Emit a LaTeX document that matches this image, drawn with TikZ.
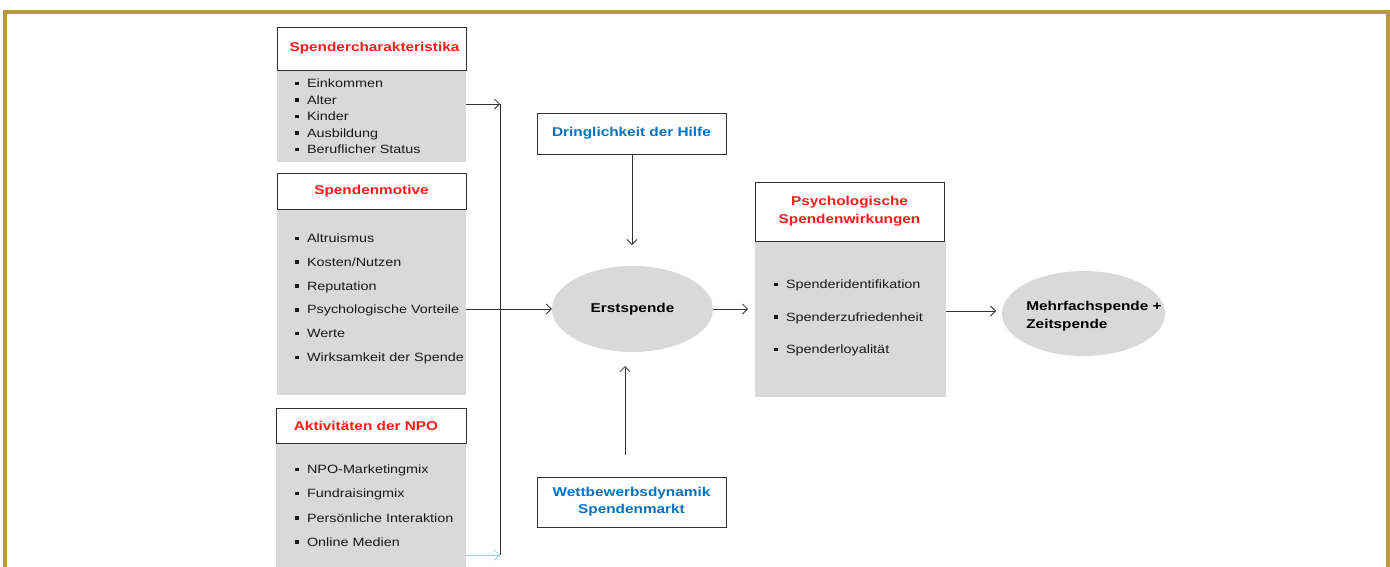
\documentclass[tikz,border=0pt]{standalone}
\usepackage{fontspec}
\setmainfont{Liberation Sans}[FakeStretch=1.2]
\usetikzlibrary{arrows.meta,shapes.geometric}
\definecolor{gold}{HTML}{B89A40}
\definecolor{boxgray}{HTML}{D9D9D9}
\definecolor{hred}{HTML}{FF1A1A}
\definecolor{hblue}{HTML}{0070C0}
\definecolor{lineg}{HTML}{333333}
\definecolor{lblue}{HTML}{9DD3DE}
\newcommand\bul{\rule[2.4pt]{3.6pt}{3.6pt}\hspace{8.2pt}}
\begin{document}
\begin{tikzpicture}[x=1pt,y=-1pt,
  hdr/.style={draw=lineg, line width=0.9pt, fill=white, align=center, inner sep=0pt,
    font=\bfseries\fontsize{12.8}{18}\selectfont},
  body/.style={fill=boxgray, inner sep=0pt},
  item/.style={anchor=base west, inner sep=0pt, text=black!90, font=\fontsize{12}{14}\selectfont},
  oval/.style={ellipse, fill=boxgray, inner sep=0pt},
  arr/.style={draw=lineg, line width=0.8pt, -{Straight Barb[length=5pt,width=10pt]}},
  plain/.style={draw=lineg, line width=0.8pt}
]
\useasboundingbox (0,0) rectangle (1390,566);
% gold frame
\draw[gold, line width=4pt] (5,570) -- (5,11.5) -- (1388,11.5) -- (1388,570);

% Box 1
\node[body, minimum width=189, minimum height=92] (b1) at (371.5,116) {};
\node[hdr, text=hred, minimum width=189, minimum height=43] (h1) at (371.5,48.5) {\hspace{6pt}Spendercharakteristika};
\node[item] (i11) at (295,87.5) {\bul Einkommen};
\node[item] (i12) at (295,104) {\bul Alter};
\node[item] (i13) at (295,120.5) {\bul Kinder};
\node[item] (i14) at (295,137) {\bul Ausbildung};
\node[item] (i15) at (295,153.5) {\bul Beruflicher Status};

% Box 2
\node[body, minimum width=189, minimum height=186] (b2) at (371.5,302) {};
\node[hdr, text=hred, minimum width=189, minimum height=36] (h2) at (371.5,191) {Spendenmotive};
\node[item] (i21) at (295,242.5) {\bul Altruismus};
\node[item] (i22) at (295,266.3) {\bul Kosten/Nutzen};
\node[item] (i23) at (295,290.1) {\bul Reputation};
\node[item] (i24) at (295,313.9) {\bul Psychologische Vorteile};
\node[item] (i25) at (295,337.7) {\bul Werte};
\node[item] (i26) at (295,361.5) {\bul Wirksamkeit der Spende};

% Box 3
\node[body, minimum width=190, minimum height=124] (b3) at (371,505) {};
\node[hdr, text=hred, minimum width=190, minimum height=35] (h3) at (371,425.5) {Aktivitäten der NPO\hspace{10pt}};
\node[item] (i31) at (295,473.5) {\bul NPO-Marketingmix};
\node[item] (i32) at (295,497.8) {\bul Fundraisingmix};
\node[item] (i33) at (295,522.1) {\bul Persönliche Interaktion};
\node[item] (i34) at (295,546.4) {\bul Online Medien};

% Middle column
\node[hdr, text=hblue, minimum width=189, minimum height=41] (d1) at (631.5,133.5) {Dringlichkeit der Hilfe};
\node[hdr, text=hblue, minimum width=189, minimum height=50, font=\bfseries\fontsize{12.8}{17}\selectfont] (w1) at (631.5,502) {Wettbewerbsdynamik\\Spendenmarkt};
\node[oval, minimum width=161, minimum height=86, font=\bfseries\fontsize{12.8}{14}\selectfont] (e1) at (632.5,309) {Erstspende};

% Psych box
\node[body, minimum width=191, minimum height=156] (b4) at (850.5,319) {};
\node[hdr, text=hred, minimum width=189, minimum height=59] (h4) at (849.5,211.5) {Psychologische\\Spendenwirkungen};
\node[item] (i41) at (774,288.5) {\bul Spenderidentifikation};
\node[item] (i42) at (774,321) {\bul Spenderzufriedenheit};
\node[item] (i43) at (774,353.5) {\bul Spenderloyalität};

% Final ellipse
\node[oval, minimum width=163, minimum height=85] (e2) at (1083.5,313.5) {};
\node[align=left, inner sep=0pt, font=\bfseries\fontsize{12.8}{18}\selectfont] (e2t) at (1094,316) {Mehrfachspende +\\Zeitspende};

% connectors
\coordinate (v1) at (500,104);
\coordinate (v2) at (500,555);
\coordinate (da) at (632,245);
\coordinate (wa) at (625,455);
\coordinate (wb) at (625,366);
\coordinate (pa) at (748,309);
\coordinate (ma) at (996,311);

\draw[plain] (v1) -- (v2);
\draw[arr] (b1.east |- v1) -- (v1);
\draw[arr, draw=lblue] (b3.east |- v2) -- (v2);
\draw[arr] (b2.east |- e1.west) -- (e1.west);
\draw[arr] (d1.south -| da) -- (da);
\draw[arr] (wa) -- (wb);
\draw[arr] (e1.east) -- (pa);
\draw[arr] (b4.east |- ma) -- (ma);
\end{tikzpicture}
\end{document}
